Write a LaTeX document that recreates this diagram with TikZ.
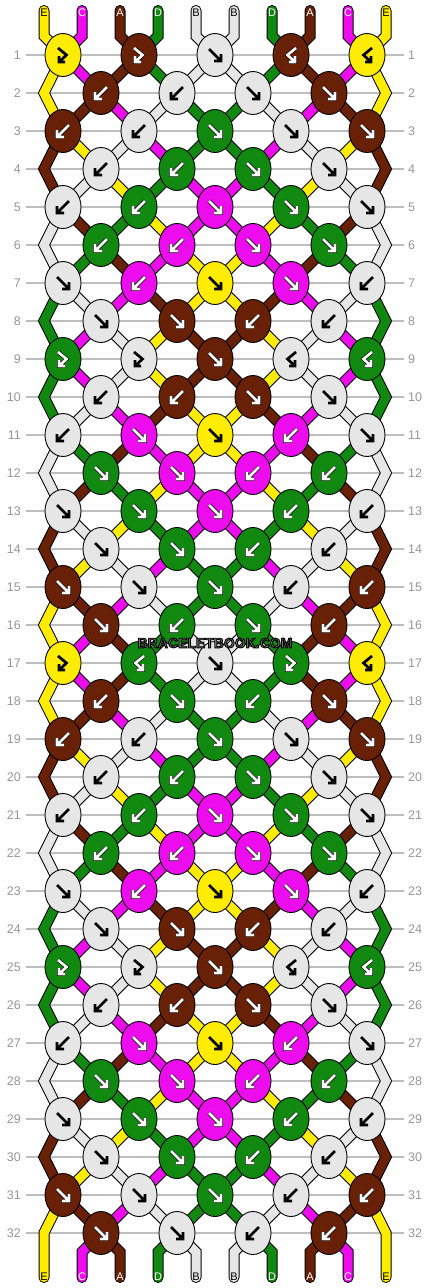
\documentclass[tikz,border=0pt]{standalone}
\usepackage{fontspec}
\setmainfont{Liberation Sans}
\usetikzlibrary{shapes.geometric}
\definecolor{tE}{RGB}{255,236,0}
\definecolor{tC}{RGB}{237,12,237}
\definecolor{tA}{RGB}{104,32,6}
\definecolor{tD}{RGB}{17,137,17}
\definecolor{tB}{RGB}{230,230,230}
\colorlet{aE}{black}\colorlet{aB}{black}\colorlet{aC}{white}\colorlet{aA}{white}\colorlet{aD}{white}
\colorlet{oE}{tE}\colorlet{oB}{tB}\colorlet{oC}{black}\colorlet{oA}{black}\colorlet{oD}{black}
\definecolor{rowgray}{RGB}{190,190,190}
\definecolor{numgray}{RGB}{150,150,150}
\definecolor{wmgray}{RGB}{125,125,125}
\pgfdeclarelayer{bg}\pgfdeclarelayer{str}\pgfsetlayers{bg,str,main}
\def\defS#1#2{\expandafter\def\csname S#1\endcsname{#2}}
\def\defK#1#2{\expandafter\def\csname K#1\endcsname{#2}}
% thread states after each row
\defS{0}{E,C,A,D,B,B,D,A,C,E}
\defS{1}{E,C,A,D,B,B,D,A,C,E}
\defS{2}{E,A,C,B,D,D,B,C,A,E}
\defS{3}{A,E,B,C,D,D,C,B,E,A}
\defS{4}{A,B,E,D,C,C,D,E,B,A}
\defS{5}{B,A,D,E,C,C,E,D,A,B}
\defS{6}{B,D,A,C,E,E,C,A,D,B}
\defS{7}{D,B,C,A,E,E,A,C,B,D}
\defS{8}{D,C,B,E,A,A,E,B,C,D}
\defS{9}{D,C,B,E,A,A,E,B,C,D}
\defS{10}{D,B,C,A,E,E,A,C,B,D}
\defS{11}{B,D,A,C,E,E,C,A,D,B}
\defS{12}{B,A,D,E,C,C,E,D,A,B}
\defS{13}{A,B,E,D,C,C,D,E,B,A}
\defS{14}{A,E,B,C,D,D,C,B,E,A}
\defS{15}{E,A,C,B,D,D,B,C,A,E}
\defS{16}{E,C,A,D,B,B,D,A,C,E}
\defS{17}{E,C,A,D,B,B,D,A,C,E}
\defS{18}{E,A,C,B,D,D,B,C,A,E}
\defS{19}{A,E,B,C,D,D,C,B,E,A}
\defS{20}{A,B,E,D,C,C,D,E,B,A}
\defS{21}{B,A,D,E,C,C,E,D,A,B}
\defS{22}{B,D,A,C,E,E,C,A,D,B}
\defS{23}{D,B,C,A,E,E,A,C,B,D}
\defS{24}{D,C,B,E,A,A,E,B,C,D}
\defS{25}{D,C,B,E,A,A,E,B,C,D}
\defS{26}{D,B,C,A,E,E,A,C,B,D}
\defS{27}{B,D,A,C,E,E,C,A,D,B}
\defS{28}{B,A,D,E,C,C,E,D,A,B}
\defS{29}{A,B,E,D,C,C,D,E,B,A}
\defS{30}{A,E,B,C,D,D,C,B,E,A}
\defS{31}{E,A,C,B,D,D,B,C,A,E}
\defS{32}{E,C,A,D,B,B,D,A,C,E}
% knots: colour/type
\defK{1}{E/fb,A/fb,B/f,A/bf,E/bf}
\defK{2}{A/b,B/b,B/f,A/f}
\defK{3}{A/b,B/b,D/f,B/f,A/f}
\defK{4}{B/b,D/b,D/f,B/f}
\defK{5}{B/b,D/b,C/f,D/f,B/f}
\defK{6}{D/b,C/b,C/f,D/f}
\defK{7}{B/f,C/b,E/f,C/f,B/b}
\defK{8}{B/f,A/f,A/b,B/b}
\defK{9}{D/fb,B/fb,A/f,B/bf,D/bf}
\defK{10}{B/b,A/b,A/f,B/f}
\defK{11}{B/b,C/f,E/f,C/b,B/f}
\defK{12}{D/f,C/f,C/b,D/b}
\defK{13}{B/f,D/f,C/f,D/b,B/b}
\defK{14}{B/f,D/f,D/b,B/b}
\defK{15}{A/f,B/f,D/f,B/b,A/b}
\defK{16}{A/f,D/b,D/f,A/b}
\defK{17}{E/fb,D/bf,B/f,D/fb,E/bf}
\defK{18}{A/b,D/f,D/b,A/f}
\defK{19}{A/b,B/b,D/f,B/f,A/f}
\defK{20}{B/b,D/b,D/f,B/f}
\defK{21}{B/b,D/b,C/f,D/f,B/f}
\defK{22}{D/b,C/b,C/f,D/f}
\defK{23}{B/f,C/b,E/f,C/f,B/b}
\defK{24}{B/f,A/f,A/b,B/b}
\defK{25}{D/fb,B/fb,A/f,B/bf,D/bf}
\defK{26}{B/b,A/b,A/f,B/f}
\defK{27}{B/b,C/f,E/f,C/b,B/f}
\defK{28}{D/f,C/f,C/b,D/b}
\defK{29}{B/f,D/f,C/f,D/b,B/b}
\defK{30}{B/f,D/f,D/b,B/b}
\defK{31}{A/f,B/f,D/f,B/b,A/b}
\defK{32}{A/f,B/f,B/b,A/b}
\newcommand\arrpath[3]{%
  \draw[arrline, line width=3.9pt, draw=o#1] #2 #3;
  \draw[arrline, line width=2.7pt, draw=a#1] #2 #3;}
\newcommand\drawarrf[1]{\arrpath{#1}{(-6,-6) -- (6,6)}{(6,-1) -- (6,6) -- (-1,6)}}
\newcommand\drawarrb[1]{\arrpath{#1}{(6,-6) -- (-6,6)}{(-6,-1) -- (-6,6) -- (1,6)}}
\newcommand\drawarrfb[1]{\arrpath{#1}{(-5,-7) -- (3.5,0) -- (-4,7)}{(-4,1) -- (-4,7) -- (2,7)}}
\newcommand\drawarrbf[1]{\arrpath{#1}{(5,-7) -- (-3.5,0) -- (4,7)}{(4,1) -- (4,7) -- (-2,7)}}
\begin{document}
\begin{tikzpicture}[x=1pt,y=-1pt,
  knot/.style={draw=black, line width=0.9pt, ellipse, minimum width=36pt, minimum height=43pt, inner sep=0pt},
  str/.style={draw=black, line width=1pt, double distance=9pt},
  arrline/.style={line cap=butt, line join=miter},
  rowline/.style={draw=rowgray, line width=1.3pt},
  rownum/.style={text=numgray, font=\fontsize{12.5}{14}\selectfont, inner sep=0pt},
  lbl/.style={font=\fontsize{11}{12}\selectfont, inner sep=0pt},
  wmt/.style={font=\bfseries\fontsize{14}{16}\selectfont, inner sep=0pt}]
\useasboundingbox (0,0) rectangle (430,1288);
% row lines and numbers
\begin{pgfonlayer}{bg}
\foreach \rr in {1,...,32}{
  \pgfmathsetmacro\yy{55+38*(\rr-1)}
  \draw[rowline] (26,\yy) -- (404,\yy);
  \node[rownum, anchor=east] (nl-\rr) at (21,\yy) {\rr};
  \node[rownum, anchor=west] (nr-\rr) at (408,\yy) {\rr};
}
\end{pgfonlayer}
% knots
\foreach \rr in {1,...,32}{
  \pgfmathtruncatemacro\odd{mod(\rr,2)}
  \pgfmathsetmacro\yy{55+38*(\rr-1)}
  \ifnum\odd=1 \def\xs{63}\else\def\xs{101}\fi
  \edef\klist{\csname K\rr\endcsname}
  \foreach \kc/\ty [count=\kn from 0] in \klist {
    \pgfmathsetmacro\xx{\xs+76*\kn}
    \node[knot, fill=t\kc] (k-\rr-\kn) at (\xx,\yy) {};
    \begin{scope}[shift={(\xx,\yy)}]
      \edef\doarr{\expandafter\noexpand\csname drawarr\ty\endcsname{\kc}}\doarr
    \end{scope}
  }
}
% strings
\begin{pgfonlayer}{str}
\foreach \sc [count=\p from 0] in {E,C,A,D,B,B,D,A,C,E} {
  \pgfmathsetmacro\xx{44+38*\p}
  \pgfmathtruncatemacro\ka{floor(\p/2)}
  \coordinate (t-\p) at (\xx,10.5);
  \coordinate (tb-\p) at (\xx,36);
  \coordinate (b-\p) at (\xx,1277.5);
  \coordinate (bb-\p) at (\xx,1252);
  \draw[str, double=t\sc, line cap=round] (t-\p) -- (tb-\p) -- (k-1-\ka.center);
  \ifnum\p>0 \ifnum\p<9
    \pgfmathtruncatemacro\kb{floor((\p-1)/2)}
    \draw[str, double=t\sc, line cap=round] (k-32-\kb.center) -- (bb-\p) -- (b-\p);
  \fi\fi
}
\foreach \rr in {1,...,31}{
  \pgfmathtruncatemacro\rn{\rr+1}
  \pgfmathtruncatemacro\odd{mod(\rr,2)}
  \edef\slist{\csname S\rr\endcsname}
  \foreach \sc [count=\p from 0] in \slist {
    \ifnum\p>0 \ifnum\p<9
      \ifnum\odd=1
        \pgfmathtruncatemacro\ka{floor(\p/2)}
        \pgfmathtruncatemacro\kb{floor((\p-1)/2)}
      \else
        \pgfmathtruncatemacro\ka{floor((\p-1)/2)}
        \pgfmathtruncatemacro\kb{floor(\p/2)}
      \fi
      \draw[str, double=t\sc] (k-\rr-\ka.center) -- (k-\rn-\kb.center);
    \fi\fi
  }
}
\foreach \rr in {2,4,...,32}{
  \pgfmathsetmacro\yy{55+38*(\rr-1)}
  \pgfmathtruncatemacro\rp{\rr-1}
  \pgfmathtruncatemacro\rn{\rr+1}
  \coordinate (eL-\rr) at (44,\yy);
  \coordinate (eR-\rr) at (386,\yy);
  \edef\slist{\csname S\rr\endcsname}
  \foreach \sc [count=\p from 0] in \slist {\ifnum\p=0 \xdef\cL{\sc}\fi \ifnum\p=9 \xdef\cR{\sc}\fi}
  \ifnum\rr<32
    \draw[str, double=t\cL] (k-\rp-0.center) -- (eL-\rr) -- (k-\rn-0.center);
    \draw[str, double=t\cR] (k-\rp-4.center) -- (eR-\rr) -- (k-\rn-4.center);
  \else
    \draw[str, double=t\cL, line cap=round] (k-\rp-0.center) -- (eL-\rr) -- (b-0);
    \draw[str, double=t\cR, line cap=round] (k-\rp-4.center) -- (eR-\rr) -- (b-9);
  \fi
}
\end{pgfonlayer}
% thread letters
\foreach \sc [count=\p from 0] in {E,C,A,D,B,B,D,A,C,E} {
  \pgfmathsetmacro\xx{44+38*\p}
  \node[lbl, text=a\sc] (lt-\p) at (\xx,12.5) {\sc};
  \node[lbl, text=a\sc] (lb-\p) at (\xx,1276.5) {\sc};
}
% watermark: grey letters with a dark outline (text render mode 2)
\node[wmt, text=wmgray] (wm) at (215,643)
  {\special{pdf:literal direct 0 0 0 RG 0.9 w 2 Tr}BRACELETBOOK.COM\special{pdf:literal direct 0 Tr}};
\end{tikzpicture}
\end{document}
